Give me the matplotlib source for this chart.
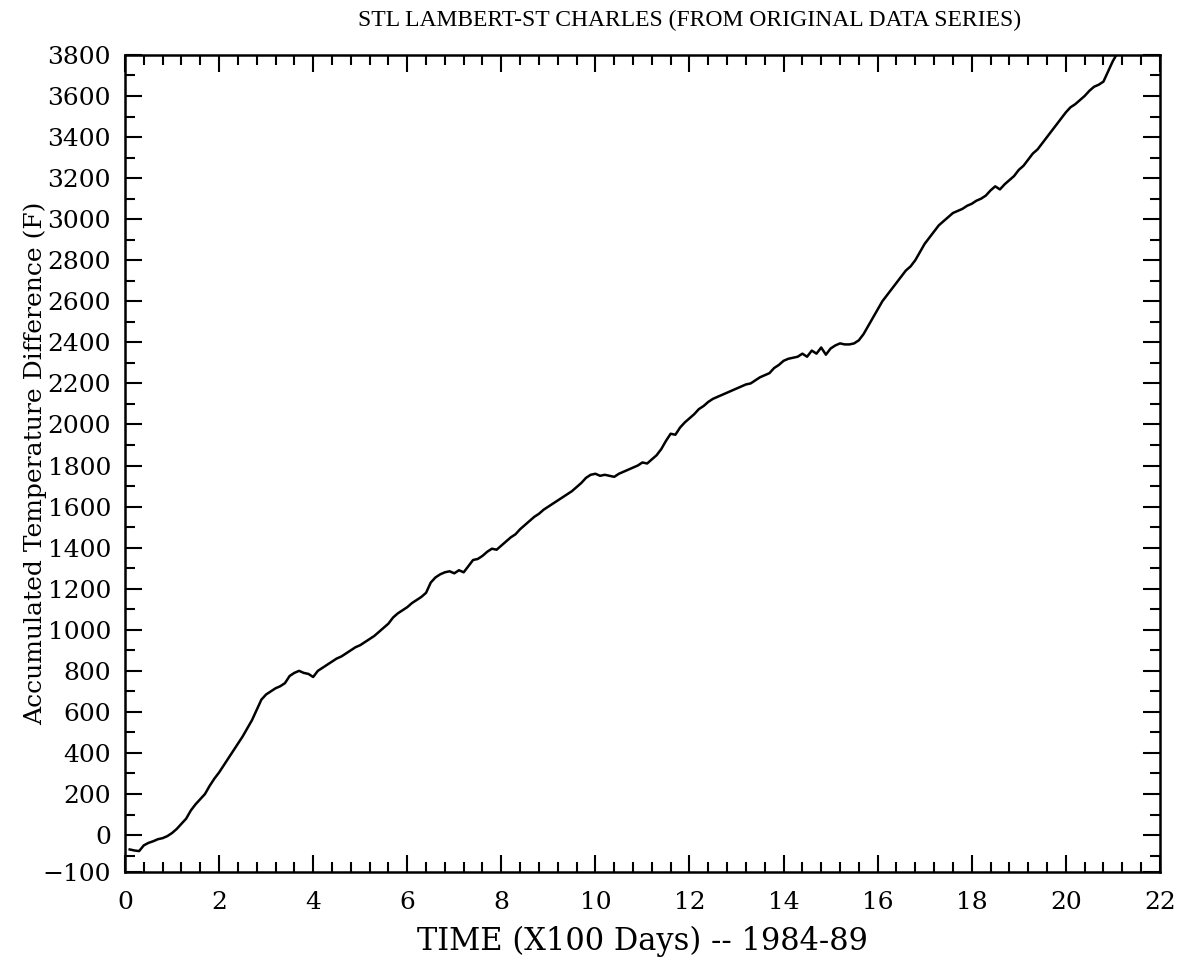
import matplotlib
matplotlib.use('Agg')
import matplotlib.pyplot as plt
import numpy as np
from matplotlib.ticker import MultipleLocator

# time in units of 100 days, one reading every 10 days
days = np.round(np.arange(1, 212) * 0.1, 1)

acc_diff = [
    -70, -75, -78, -50, -38, -30, -20, -15, -5, 10,
    30, 55, 80, 120, 150, 175, 200, 240, 275, 305,
    340, 375, 410, 445, 480, 520, 560, 610, 660, 685,
    700, 715, 725, 740, 775, 790, 800, 790, 785, 770,
    800, 815, 830, 845, 860, 870, 885, 900, 915, 925,
    940, 955, 970, 990, 1010, 1030, 1060, 1080, 1095, 1110,
    1130, 1145, 1160, 1180, 1230, 1255, 1270, 1280, 1285, 1275,
    1290, 1280, 1310, 1340, 1345, 1360, 1380, 1395, 1390, 1410,
    1430, 1450, 1465, 1490, 1510, 1530, 1550, 1565, 1585, 1600,
    1615, 1630, 1645, 1660, 1675, 1695, 1715, 1740, 1755, 1760,
    1750, 1755, 1750, 1745, 1760, 1770, 1780, 1790, 1800, 1815,
    1810, 1830, 1850, 1880, 1920, 1955, 1950, 1985, 2010, 2030,
    2050, 2075, 2090, 2110, 2125, 2135, 2145, 2155, 2165, 2175,
    2185, 2195, 2200, 2215, 2230, 2240, 2250, 2275, 2290, 2310,
    2320, 2325, 2330, 2345, 2330, 2360, 2345, 2375, 2340, 2370,
    2385, 2395, 2390, 2390, 2395, 2410, 2440, 2480, 2520, 2560,
    2600, 2630, 2660, 2690, 2720, 2750, 2770, 2800, 2840, 2880,
    2910, 2940, 2970, 2990, 3010, 3030, 3040, 3050, 3065, 3075,
    3090, 3100, 3115, 3140, 3160, 3145, 3170, 3190, 3210, 3240,
    3260, 3290, 3320, 3340, 3370, 3400, 3430, 3460, 3490, 3520,
    3545, 3560, 3580, 3600, 3625, 3645, 3655, 3670, 3720, 3770,
    3810,
]

# the old plotter put its "-100" label at the bottom corner, a bit below
# where -100 actually falls on the scale
y_bottom = -180
yticks = [y_bottom] + list(range(0, 3801, 200))
ylabels = ['\u2212100'] + [str(v) for v in range(0, 3801, 200)]
xticks = list(range(0, 23, 2))

fig = plt.figure(figsize=(11.95, 9.64), dpi=100)
ax = fig.add_axes([0.1046, 0.0954, 0.866, 0.8476])

ax.plot(days, acc_diff, color='black', lw=1.8)

ax.set_xlim(0, 22)
ax.set_ylim(y_bottom, 3800)
ax.set_xticks(xticks)
ax.set_yticks(yticks, ylabels)
ax.xaxis.set_minor_locator(MultipleLocator(0.4))
ax.yaxis.set_minor_locator(MultipleLocator(100))

ax.tick_params(which='both', direction='in', top=True, right=True, width=1.5)
ax.tick_params(which='major', length=12, labelsize=18)
ax.tick_params(axis='x', which='major', pad=14)
ax.tick_params(axis='y', which='major', pad=10)
ax.tick_params(which='minor', length=7)
for lab in ax.get_xticklabels() + ax.get_yticklabels():
    lab.set_family('DejaVu Serif')
for sp in ax.spines.values():
    sp.set_linewidth(1.8)

ax.set_xlabel('TIME (X100 Days) -- 1984-89', family='DejaVu Serif', fontsize=22, labelpad=8)
ax.set_ylabel('Accumulated Temperature Difference (F)', family='DejaVu Serif', fontsize=18, labelpad=-3)
fig.text(0.577, 0.979, 'STL LAMBERT-ST CHARLES (FROM ORIGINAL DATA SERIES)',
         family='Liberation Serif', fontsize=17, ha='center', va='center')

fig.savefig('out.png', dpi=100)
